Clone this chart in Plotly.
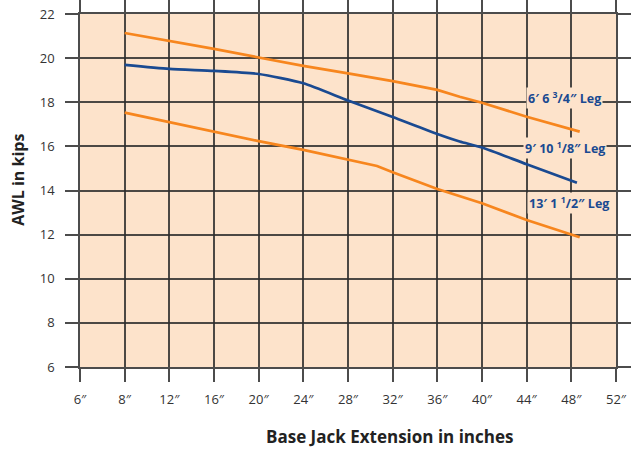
import plotly.graph_objects as go

# Tick positions (inches on a linear scale; first slot is labelled 6″)
tick_vals = [4, 8, 12, 16, 20, 24, 28, 32, 36, 40, 44, 48, 52]
tick_text = ["6″", "8″", "12″", "16″", "20″", "24″", "28″", "32″", "36″", "40″", "44″", "48″", "52″"]
y_ticks = [6, 8, 10, 12, 14, 16, 18, 20, 22]

# 6' 6 3/4" leg
top_x = [8, 12, 16, 20, 24, 28, 32, 36, 38, 40, 44, 48.75]
top_y = [21.14, 20.79, 20.42, 20.03, 19.65, 19.31, 18.96, 18.56, 18.25, 17.98, 17.34, 16.67]

# 9' 10 1/8" leg
mid_x = [8, 12, 16, 20, 24, 28, 32, 36, 38, 40, 44, 48.5]
mid_y = [19.69, 19.51, 19.42, 19.28, 18.86, 18.08, 17.33, 16.56, 16.22, 15.95, 15.19, 14.35]

# 13' 1 1/2" leg
low_x = [8, 12, 16, 20, 24, 28, 30.6, 32, 36, 40, 44, 48.75]
low_y = [17.53, 17.09, 16.66, 16.24, 15.84, 15.38, 15.11, 14.83, 14.07, 13.42, 12.66, 11.88]

labels = ["6′ 6 <sup>3</sup>/4″ Leg", "9′ 10 <sup>1</sup>/8″ Leg", "13′ 1 <sup>1</sup>/2″ Leg"]
label_x = [47.4, 47.4, 47.8]
label_y = [18.2, 15.92, 13.44]

ORANGE = "#f7861e"
BLUE = "#1a4a91"
PEACH = "#fde3cb"
GRID = "rgba(45,45,45,0.85)"
FONT = "Open Sans"

fig = go.Figure()
fig.add_trace(go.Scatter(x=top_x, y=top_y, mode="lines",
                         line=dict(color=ORANGE, width=2.7)))
fig.add_trace(go.Scatter(x=mid_x, y=mid_y, mode="lines",
                         line=dict(color=BLUE, width=2.7, shape="spline", smoothing=0.6)))
fig.add_trace(go.Scatter(x=low_x, y=low_y, mode="lines",
                         line=dict(color=ORANGE, width=2.7)))

for t, lx, ly in zip(labels, label_x, label_y):
    fig.add_annotation(x=lx, y=ly, text="<b>" + t + "</b>", showarrow=False,
                       font=dict(family=FONT, size=12.5, color=BLUE),
                       bgcolor=PEACH, borderpad=1)

fig.add_annotation(xref="paper", yref="paper", x=0.578, y=-0.198, yanchor="middle",
                   text="<b>Base Jack Extension in inches</b>", showarrow=False,
                   font=dict(family=FONT, size=17, color="#222222"))
fig.add_annotation(xref="paper", yref="paper", x=-0.116, y=0.53, xanchor="center",
                   yanchor="middle",
                   text="<b>AWL in kips</b>", textangle=-90, showarrow=False,
                   font=dict(family=FONT, size=16, color="#222222"))

axis_common = dict(showgrid=True, gridcolor=GRID, gridwidth=1.5,
                   ticks="outside", ticklen=13, tickwidth=1.5, tickcolor=GRID,
                   showline=True, linecolor=GRID, linewidth=1.5, mirror="ticks",
                   zeroline=False, automargin=False, ticklabeloverflow="allow",
                   tickfont=dict(family=FONT, size=13, color="#333333"))

fig.update_xaxes(range=[4, 52], tickmode="array", tickvals=tick_vals, ticktext=tick_text,
                 ticklabelstandoff=7, **axis_common)
fig.update_yaxes(range=[6, 22], tickmode="array", tickvals=y_ticks,
                 ticklabelstandoff=8, **axis_common)

fig.update_layout(width=631, height=450, showlegend=False,
                  margin=dict(l=80, r=15, t=14, b=83),
                  plot_bgcolor=PEACH, paper_bgcolor="white")

fig.write_html("out.html", config={"displayModeBar": False},
               post_script="document.body.style.margin='0';")
